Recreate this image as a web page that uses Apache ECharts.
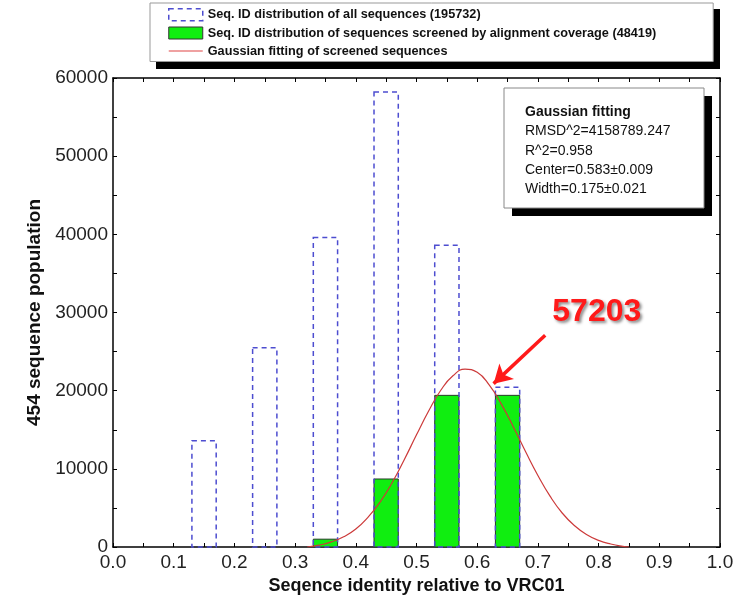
<!DOCTYPE html>
<html><head><meta charset="utf-8">
<script src="https://cdn.jsdelivr.net/npm/echarts@6/dist/echarts.min.js"></script>
<style>html,body{margin:0;padding:0;background:#fff}#c{width:742px;height:601px}</style>
</head><body><div id="c"></div>
<script>
// ---- data ----
var binLow  = [0.13, 0.23, 0.33, 0.43, 0.53, 0.63];
var binHigh = [0.17, 0.27, 0.37, 0.47, 0.57, 0.67];
var allSeq   = [13600, 25500, 39600, 58200, 38600, 20450];
var screened = [0, 0, 1000, 8700, 19400, 19400];
var gaussX = [0.32,0.34,0.36,0.38,0.40,0.42,0.44,0.46,0.48,0.50,0.52,0.54,0.56,0.58,0.60,0.62,0.64,0.66,0.68,0.70,0.72,0.74,0.76,0.78,0.80,0.82,0.84,0.85];
var gaussY = [0,250,650,1300,2300,3800,5750,8250,11200,14350,17400,20050,21900,22750,22350,20700,18250,15300,12150,9150,6500,4350,2750,1600,850,380,80,0];
var xTicks = ['0.0','0.1','0.2','0.3','0.4','0.5','0.6','0.7','0.8','0.9','1.0'];
var legendNames = ['Seq. ID distribution of all sequences (195732)',
  'Seq. ID distribution of sequences screened by alignment coverage (48419)',
  'Gaussian fitting of screened sequences'];
var fitLines = ['Gaussian fitting','RMSD^2=4158789.247','R^2=0.958','Center=0.583\u00b10.009','Width=0.175\u00b10.021'];
var calloutText = '57203';
var calloutFrom = [0.712, 27100];
var calloutTo = [0.627, 20900];
var calloutLabelAt = [0.797, 30100];

var blue = '#4d4dd0', green = '#10ee10', red = '#cc3a3a';
var barsAll = binLow.map(function(v,i){return [v, binHigh[i], allSeq[i]];});
var barsScr = binLow.map(function(v,i){return [v, binHigh[i], screened[i]];}).filter(function(d){return d[2]>0;});
var curve = gaussX.map(function(x,i){return [x, gaussY[i]];});

function rectRender(styleFn){
  return function(params, api){
    var p0 = api.coord([api.value(0), api.value(2)]);
    var p1 = api.coord([api.value(1), 0]);
    return {type:'rect', shape:{x:p0[0], y:p0[1], width:p1[0]-p0[0], height:p1[1]-p0[1]}, style:styleFn()};
  };
}
var font = 'Arial, "Liberation Sans", sans-serif';
var axisCommon = {
  axisLine:{show:true, onZero:false, lineStyle:{color:'#000', width:1.5}},
  axisTick:{show:true, inside:true, length:4, lineStyle:{color:'#000'}},
  minorTick:{show:true, splitNumber:2, length:4, lineStyle:{color:'#000'}},
  splitLine:{show:false}
};
var chart = echarts.init(document.getElementById('c'));
chart.setOption({
  animation:false,
  grid:{left:113, right:22, top:78, bottom:54},
  legend:{
    orient:'vertical', left:150, top:3, z:5,
    padding:[5,57,4,18], itemGap:5, itemWidth:34, itemHeight:12,
    backgroundColor:'#fff', borderColor:'#999', borderWidth:1,
    textStyle:{fontFamily:font, fontWeight:'bold', fontSize:12.7, color:'#111'},
    data:[
      {name:legendNames[0], icon:'rect', itemStyle:{color:'#fff', borderColor:blue, borderWidth:1.5, borderType:[5,4]}},
      {name:legendNames[1], icon:'rect', itemStyle:{color:green, borderColor:'#333', borderWidth:1}},
      {name:legendNames[2], icon:'path://M0,0 L34,0 L34,1.2 L0,1.2 Z', itemStyle:{color:'#e04545', borderWidth:0}}
    ]
  },
  xAxis:[
    Object.assign({type:'value', min:0, max:1, interval:0.1, position:'bottom',
      name:'Seqence identity relative to VRC01', nameLocation:'middle', nameGap:24,
      nameTextStyle:{fontFamily:font, fontWeight:'bold', fontSize:18, color:'#111'},
      axisLabel:{fontFamily:font, fontSize:19, color:'#222', margin:6,
        formatter:function(v){return xTicks[Math.round(v*10)];}}}, axisCommon),
    Object.assign({type:'value', min:0, max:1, interval:0.1, position:'top', axisLabel:{show:false}}, axisCommon)
  ],
  yAxis:[
    Object.assign({type:'value', min:0, max:60000, interval:10000, position:'left',
      name:'454 sequence population', nameLocation:'middle', nameGap:67,
      nameTextStyle:{fontFamily:font, fontWeight:'bold', fontSize:19, color:'#111'},
      axisLabel:{fontFamily:font, fontSize:19, color:'#222', margin:5,
        formatter:function(v){return String(v);}}}, axisCommon),
    Object.assign({type:'value', min:0, max:60000, interval:10000, position:'right', axisLabel:{show:false}}, axisCommon)
  ],
  series:[
    {name:legendNames[1], type:'custom', xAxisIndex:0, yAxisIndex:0, data:barsScr, z:2,
      itemStyle:{color:green},
      encode:{x:[0,1], y:2},
      renderItem:rectRender(function(){return {fill:green, stroke:'#2a3a2a', lineWidth:1};})},
    {name:legendNames[0], type:'custom', xAxisIndex:0, yAxisIndex:0, data:barsAll, z:3,
      itemStyle:{color:blue},
      encode:{x:[0,1], y:2},
      renderItem:rectRender(function(){return {fill:'none', stroke:blue, lineWidth:1.5, lineDash:[5,4]};})},
    {name:legendNames[2], type:'line', xAxisIndex:0, yAxisIndex:0, data:curve, smooth:true, symbol:'none', z:4,
      lineStyle:{color:red, width:1.2}, itemStyle:{color:red},
      markLine:{silent:true, symbol:['none','arrow'], symbolSize:[16,18],
        lineStyle:{color:'#ff1a1a', width:3.5, type:'solid'}, label:{show:false},
        data:[[{coord:calloutFrom}, {coord:calloutTo}]]},
      markPoint:{silent:true, symbol:'circle', symbolSize:0,
        data:[{coord:calloutLabelAt, value:calloutText}],
        label:{show:true, formatter:calloutText, fontFamily:font, fontWeight:'bold', fontSize:32, color:'#ff1a1a',
          textShadowColor:'rgba(0,0,0,0.45)', textShadowBlur:3, textShadowOffsetX:2, textShadowOffsetY:2}}}
  ],
  graphic:[
    {type:'rect', shape:{x:156, y:9, width:564, height:60}, z:0, style:{fill:'#000'}},
    {type:'rect', shape:{x:512, y:96, width:200, height:120}, z:10, style:{fill:'#000'}},
    {type:'rect', shape:{x:504, y:88, width:200, height:120}, z:11,
      style:{fill:'#fff', stroke:'#888', lineWidth:1}},
    {type:'text', x:525, y:105, z:12, style:{text:fitLines[0], font:'bold 14px '+font, fill:'#111'}},
    {type:'text', x:525, y:124.5, z:12, style:{text:fitLines[1], font:'14px '+font, fill:'#111'}},
    {type:'text', x:525, y:144, z:12, style:{text:fitLines[2], font:'14px '+font, fill:'#111'}},
    {type:'text', x:525, y:163, z:12, style:{text:fitLines[3], font:'14px '+font, fill:'#111'}},
    {type:'text', x:525, y:182, z:12, style:{text:fitLines[4], font:'14px '+font, fill:'#111'}}
  ]
});
</script></body></html>
